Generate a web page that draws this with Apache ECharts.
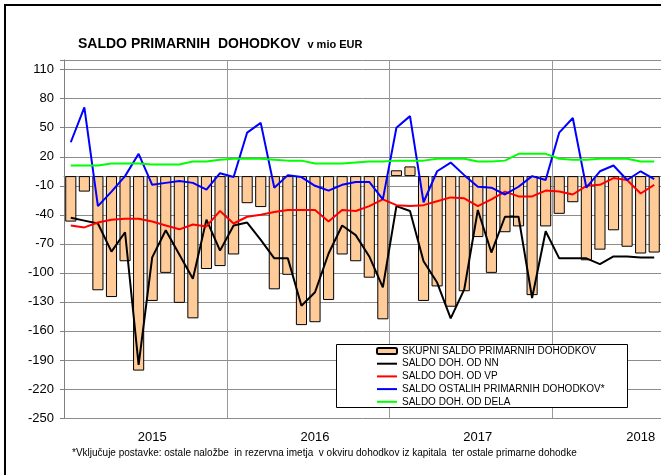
<!DOCTYPE html>
<html>
<head>
<meta charset="utf-8">
<script src="https://cdn.jsdelivr.net/npm/echarts@6/dist/echarts.min.js"></script>
<style>
  html, body { margin: 0; padding: 0; background: #fff; }
  #chart { width: 661px; height: 475px; }
</style>
</head>
<body>
<div id="chart"></div>
<script>
const years = ['2015', '2016', '2017', '2018']
const monthsPerYear = [12, 12, 12, 8]

const skupni = [-47, -16, -118, -125, -88, -201, -129, -100, -131, -147, -96, -93,
  -81, -28, -32, -117, -102, -154, -151, -128, -81, -88, -105, -148,
  6, 10, -129, -114, -135, -119, -63, -100, -58, -52, -123, -52,
  -39, -27, -87, -76, -56, -73, -80, -79]
const nn = [-43, -46, -49, -78, -58, -195, -84, -56, -81, -106, -45, -77,
  -51, -48, -66, -85, -85, -134, -120, -80, -51, -61, -83, -115,
  -31, -36, -88, -110, -147, -117, -35, -79, -42, -42, -126, -57,
  -85, -85, -85, -91, -83, -83, -84, -84]
const vp = [-51, -53, -48, -45, -44, -44, -47, -51, -55, -50, -52, -36,
  -49, -42, -40, -37, -35, -35, -35, -47, -35, -36, -31, -24,
  -30, -31, -30, -26, -22, -23, -31, -24, -16, -21, -21, -15,
  -16, -19, -10, -9, -2, -4, -18, -9]
const ostali = [35, 71, -31, -16, 0, 23, -9, -7, -5, -7, -14, 3,
  -1, 45, 55, -12, 1, -1, -10, -15, -9, -6, -6, -24,
  50, 62, -27, 5, 14, 1, -11, -12, -19, -11, 0, -4,
  45, 60, -12, 5, 11, -4, 5, -3]
const dela = [11, 11, 11, 13, 13, 13, 12, 12, 12, 15, 15, 17,
  18, 18, 18, 17, 16, 16, 13, 13, 13, 14, 15, 15,
  16, 16, 16, 18, 18, 18, 15, 15, 16, 23, 23, 23,
  18, 17, 17, 18, 18, 18, 15, 15]

const legendNames = [
  'SKUPNI SALDO PRIMARNIH DOHODKOV',
  'SALDO DOH. OD NN',
  'SALDO DOH. OD VP',
  'SALDO OSTALIH PRIMARNIH DOHODKOV*',
  'SALDO DOH. OD DELA'
]

let months = []
years.forEach((y, i) => {
  for (let m = 1; m <= monthsPerYear[i]; m++) {
    months.push(y + '-' + (m < 10 ? '0' + m : m))
  }
})

const font = '"Liberation Sans", Arial, sans-serif'
const narrow = '"Liberation Sans Narrow", "Arial Narrow", "Liberation Sans", Arial, sans-serif'
// thin line icon for the legend (invisible move points keep the 20x6 box)
const lineIcon = 'path://M0,0 M0,2 L20,2 L20,4 L0,4 Z M20,6'

const lineSeries = (name, data, color) => ({
  name: name,
  type: 'line',
  data: data,
  symbol: 'none',
  lineStyle: { color: color, width: 2 },
  itemStyle: { color: color }
})

const option = {
  animation: false,
  backgroundColor: '#fff',
  title: {
    left: 73,
    top: 30,
    text: '{a|SALDO PRIMARNIH  DOHODKOV} {b|v mio EUR}',
    textStyle: {
      rich: {
        a: { fontFamily: font, fontWeight: 'bold', fontSize: 14, color: '#000' },
        b: { fontFamily: narrow, fontSize: 11, color: '#000', padding: [2, 0, 0, 2] }
      }
    }
  },
  graphic: [
    {
      type: 'rect',
      shape: { x: 5, y: 5, width: 700, height: 500 },
      style: { fill: 'none', stroke: '#000', lineWidth: 2 },
      z: 1
    },
    {
      type: 'rect',
      shape: { x: 336.5, y: 344.5, width: 291, height: 63 },
      style: { fill: '#fff', stroke: '#000', lineWidth: 1 },
      z: 50
    },
    {
      type: 'text',
      left: 72,
      top: 448,
      style: {
        text: '*Vključuje postavke: ostale naložbe  in rezervna imetja  v okviru dohodkov iz kapitala  ter ostale primarne dohodke',
        font: '10px ' + narrow,
        fill: '#000'
      }
    }
  ],
  legend: {
    orient: 'vertical',
    left: 376,
    top: 345,
    padding: 0,
    itemWidth: 20,
    itemHeight: 6,
    itemGap: 0.7,
    z: 60,
    data: [
      { name: legendNames[0] },
      { name: legendNames[1], icon: lineIcon },
      { name: legendNames[2], icon: lineIcon },
      { name: legendNames[3], icon: lineIcon },
      { name: legendNames[4], icon: lineIcon }
    ],
    textStyle: { fontFamily: font, fontSize: 10, color: '#000', lineHeight: 12 }
  },
  grid: { left: 64, right: -2, top: 60, bottom: 57 },
  xAxis: {
    type: 'category',
    data: months,
    boundaryGap: true,
    axisLine: { lineStyle: { color: '#808080', width: 1 } },
    axisTick: { show: false },
    axisLabel: {
      interval: (index) => index % 12 === 6,
      formatter: (value) => value.slice(0, 4),
      fontFamily: font,
      fontSize: 13,
      color: '#000',
      margin: 13
    },
    splitLine: {
      show: true,
      interval: (index) => index % 12 === 0,
      lineStyle: { color: '#999', width: 1 }
    }
  },
  yAxis: {
    type: 'value',
    min: -250,
    max: 120,
    interval: 30,
    axisLine: { show: true, lineStyle: { color: '#808080', width: 1 } },
    axisTick: { show: true, length: 4, lineStyle: { color: '#808080' } },
    axisLabel: {
      formatter: (v) => v === 120 ? '' : v,
      fontFamily: font,
      fontSize: 13,
      color: '#000',
      margin: 10
    },
    splitLine: { lineStyle: { color: '#8c8c8c', width: 1 } }
  },
  series: [
    {
      name: legendNames[0],
      type: 'bar',
      data: skupni,
      barCategoryGap: '18%',
      itemStyle: { color: '#FFCC99', borderColor: '#000', borderWidth: 1 }
    },
    lineSeries(legendNames[1], nn, '#000000'),
    lineSeries(legendNames[2], vp, '#FF0000'),
    lineSeries(legendNames[3], ostali, '#0000FF'),
    lineSeries(legendNames[4], dela, '#00FF00')
  ]
}

const chartDom = echarts.init(document.getElementById('chart'))
chartDom.setOption(option)
</script>
</body>
</html>
